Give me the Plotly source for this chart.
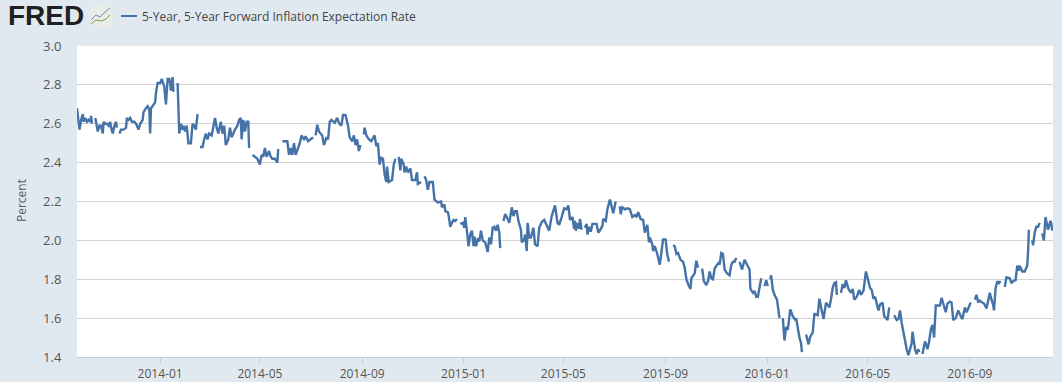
import pandas as pd
import plotly.graph_objects as go

SERIES_NAME = "5-Year, 5-Year Forward Inflation Expectation Rate"
TICK_DATES = ["2014-01-01","2014-05-01","2014-09-01","2015-01-01","2015-05-01","2015-09-01","2016-01-01","2016-05-01","2016-09-01"]
TICK_LABELS = ["2014-01","2014-05","2014-09","2015-01","2015-05","2015-09","2016-01","2016-05","2016-09"]
Y_TICKS = [1.4,1.6,1.8,2.0,2.2,2.4,2.6,2.8,3.0]

# days after 2014-01-01, and the rate on that day (None marks a missing observation)
days_2013 = [-100,-99,-97,-95,-93,-92,-90,-88,-86,-84,-83,-82,-80,-78,-77,-75,-73,-71,-69,-68,-66,-64,-62,-60,-59,-57,-55,-53,-52,-50,-49,-47,-44,-41,-40,-38,-36,-34,-31,-29,-26,-24,-21,-20,-17,-15,-13,-12,-11,-8,-6,-5,-3]
rate_2013 = [2.68,2.65,2.57,2.62,2.65,2.61,2.63,2.61,2.62,2.61,2.64,2.60,None,2.63,2.60,2.56,2.59,2.59,2.55,2.61,2.60,2.60,2.59,2.61,2.58,2.55,2.59,2.61,2.58,None,2.55,2.57,2.57,2.58,2.63,2.62,2.63,2.61,2.61,2.60,2.57,2.60,2.62,2.66,2.68,2.69,2.67,2.55,2.68,2.70,2.71,2.76,2.81]
days_2014a = [0,2,5,7,9,11,12,13,15,16,17,19,21,22,23,25,27,28,30,32,34,37,39,41,43,45,46,48,51,53,55,57,59,62,64,66,68,70,73,75,77,79,82,84,86,88,90,93,95,97,98,100,102,104,106,107,109,111,114,117,120,122,124,126,128,131,133,135,138,141,142,145,147,149,153,155,157,159,161,163,166,168,170,173,175,178,181,184,186,187,189,191,194,195,197]
rate_2014a = [2.81,2.83,2.79,2.70,2.83,2.83,2.81,2.77,2.84,2.77,2.77,None,2.81,2.71,2.55,2.60,2.57,2.59,2.56,2.59,2.50,2.50,2.60,2.59,2.57,2.65,None,2.48,2.48,2.52,2.55,2.52,2.55,2.54,2.58,2.63,2.58,2.55,2.61,2.55,2.59,2.49,2.52,2.58,2.53,2.55,2.57,2.59,2.62,2.63,2.52,2.62,2.56,2.61,2.61,2.475,None,2.44,2.43,2.42,2.39,2.44,2.43,2.475,2.43,2.46,2.43,2.42,2.42,2.40,2.47,None,2.51,2.51,2.51,2.44,2.475,2.44,2.50,2.44,2.475,2.50,2.54,2.52,2.535,2.51,2.52,2.53,None,2.54,2.595,2.56,2.54,2.54,2.49]
days_2014b = [198,200,202,204,206,210,213,215,218,220,223,226,228,231,233,235,237,239,241,243,245,246,248,251,254,258,260,262,264,266,268,270,272,273,275,279,281,283,285,287,289,290,293,294,296,298,301,303,307,309,310,314,316,318,320,322,324,328,330,334,338,339,342,343,346,347]
rate_2014b = [2.50,2.53,2.52,2.61,2.62,2.605,2.63,2.605,2.59,2.645,2.645,2.59,2.53,2.51,2.54,2.49,2.52,2.46,2.49,None,2.545,2.58,2.54,2.52,2.51,2.54,2.485,2.50,2.39,2.425,2.42,2.34,2.30,2.38,2.30,2.31,2.39,2.42,None,2.43,2.36,2.42,2.39,2.35,2.38,2.35,2.37,2.31,2.31,2.35,2.29,2.30,None,2.33,2.31,2.26,2.30,2.30,2.21,2.195,2.20,2.17,2.185,2.15,2.145,2.13]
days_2015a = [349,351,353,355,357,359,361,364,366,367,369,371,373,375,377,378,380,382,384,386,388,391,394,396,398,400,402,404,406,408,409,411,413,415,417,420,423,425,427,429,431,434,435,438,439,441,442,444,446,449,451,454,456,459,462,465,468,471,475,478,480,483,486,489,491,493,496,498]
rate_2015a = [2.07,2.09,2.105,2.10,2.11,None,2.085,2.09,2.065,2.12,2.05,1.97,2.03,2.05,1.97,2.02,1.97,2.005,2.00,2.05,2.00,1.99,1.94,2.015,1.98,2.065,2.07,2.05,2.08,2.04,1.96,None,2.10,2.135,2.12,2.09,2.17,2.125,2.15,2.15,2.10,2.055,1.99,2.005,2.03,1.945,2.09,2.015,2.015,2.065,1.98,1.97,2.065,2.095,2.105,2.08,2.05,2.125,2.18,2.09,2.08,2.12,2.165,2.16,2.18,2.105,2.12,2.06]
days_2015b = [499,500,502,504,505,507,509,511,513,514,516,518,520,523,525,527,529,532,533,536,538,541,543,545,548,550,553,554,556,559,562,565,568,571,573,575,578,581,583,586,588,589,592,593,595,598,601,604,605,608,610,612,614,617,619,621,623,626,629,631,633,636,638,639,641,643,645,647,650,652,654,657,659,661,663,665,667,670,672,673,675,677,679,682,685,687,689,691,693,695,697,700,703,706,709,710,713,715,717,719,721,723,725,727,729,731,733]
rate_2015b = [2.10,2.05,2.09,2.06,2.11,2.055,None,2.065,2.085,2.03,2.07,2.045,2.085,2.085,2.085,2.04,2.05,2.075,2.11,2.10,2.16,2.21,2.17,2.14,2.20,None,2.175,2.135,2.17,2.16,2.165,2.16,2.12,2.13,2.12,2.145,2.11,2.105,2.04,2.08,1.99,2.015,1.98,1.945,1.97,1.93,1.875,1.97,2.005,2.005,1.93,1.89,None,1.975,1.97,1.93,1.935,1.90,1.89,1.86,1.80,1.765,1.75,1.805,1.815,1.83,1.895,1.86,None,1.855,1.79,1.77,1.79,1.84,1.805,1.80,1.855,1.875,1.885,1.875,1.935,1.93,1.85,1.83,1.82,1.875,1.89,1.89,1.91,None,1.89,1.85,1.90,1.875,1.85,1.75,1.73,1.74,1.71,1.71,1.755,1.805,None,1.765,1.795,1.765,None]
days_2016a = [734,735,737,739,742,743,745,747,749,751,753,755,758,761,764,765,769,771,772,775,777,780,782,785,787,788,791,793,796,798,801,805,807,809,811,813,814,816,819,821,823,825,828,831,833,835,838,841,843,846,849,852,854,856,858,860,864,866,869,871,873,875,877,880,883,886,888,890,892,895,898,900,902,904,905,908,910,912,913,915,917,920,923,925,927,929,931,933,936]
rate_2016a = [1.80,1.82,1.745,1.72,1.695,1.65,1.60,None,1.60,1.485,1.555,1.54,1.645,1.61,1.59,1.60,1.50,1.47,1.425,None,1.515,1.465,1.505,1.525,1.625,1.62,1.615,1.70,1.635,1.595,1.68,1.655,1.70,1.755,1.78,1.785,1.72,None,1.73,1.775,1.755,1.795,1.75,1.73,1.75,1.695,1.71,1.745,1.72,1.74,1.84,1.795,1.755,1.745,1.70,1.71,1.64,1.67,1.68,1.61,1.60,1.59,1.655,None,1.615,1.59,1.595,1.64,1.575,1.50,1.44,1.41,1.44,1.47,1.53,1.44,1.415,1.44,1.425,None,1.415,1.48,1.44,1.48,1.54,1.565,1.50,1.665,1.665]
days_2016b = [938,940,942,945,947,950,952,954,957,960,963,965,968,970,973,975,978,980,982,984,986,989,991,994,996,998,1000,1002,1003,1005,1007,1009,1011,1013,1016,1018,1022,1024,1026,1029,1031,1033,1034,1037,1040,1043,1044,1045,1047,1049,1050,1052,1054,1056,1058,1059,1061,1063,1065,1067,1068,1071,1072,1073]
rate_2016b = [1.665,1.705,1.675,1.63,1.675,1.685,1.68,1.59,1.60,1.64,1.61,1.595,1.655,1.63,1.66,1.68,None,1.695,1.72,1.68,1.69,1.68,1.675,1.65,1.69,1.73,1.695,1.67,1.64,1.755,1.79,1.78,1.79,None,1.76,1.81,1.805,1.78,1.79,1.795,1.87,1.845,1.87,1.84,1.84,1.87,1.94,2.055,None,2.00,1.975,2.04,2.07,2.07,2.09,None,2.035,2.00,2.12,2.08,2.055,2.10,2.085,2.05]

days = days_2013 + days_2014a + days_2014b + days_2015a + days_2015b + days_2016a + days_2016b
rates = rate_2013 + rate_2014a + rate_2014b + rate_2015a + rate_2015b + rate_2016a + rate_2016b
assert len(days) == len(rates)

dates = pd.Timestamp("2014-01-01") + pd.to_timedelta(days, unit="D")

BG = "#e1e9f0"
LINE = "#4572a7"
GRID = "#d3d3d3"
AXIS = "#c0d0e0"
TEXT = "#555555"
W, H = 1062, 382
L, R, T, B = 77, 9, 46, 25

def px(x):
    return (x - L) / (W - L - R)

def py(y):
    return (H - B - y) / (H - B - T)

fig = go.Figure(go.Scatter(x=dates, y=rates, mode="lines", name=SERIES_NAME,
                           line=dict(color=LINE, width=2.4), connectgaps=False,
                           showlegend=False))

shapes = [
    dict(type="rect", xref="paper", yref="paper", x0=px(90), x1=px(112), y0=py(27), y1=py(6),
         fillcolor="#e9ebe8", line=dict(width=0), layer="below"),
    dict(type="path", xref="paper", yref="paper", line=dict(color="#6f90b8", width=1),
         path=f"M {px(91)} {py(20)} L {px(96)} {py(15)} L {px(100)} {py(17)} L {px(105)} {py(12)} L {px(110)} {py(8)}"),
    dict(type="path", xref="paper", yref="paper", line=dict(color="#7f9e4a", width=1),
         path=f"M {px(91)} {py(24)} L {px(96)} {py(20)} L {px(101)} {py(21)} L {px(106)} {py(19)} L {px(110)} {py(15)}"),
    dict(type="line", xref="paper", yref="paper", x0=px(121), x1=px(137), y0=py(16), y1=py(16),
         line=dict(color=LINE, width=2)),
]

annotations = [
    dict(text="<b>FRED</b>", xref="paper", yref="paper", x=px(6), y=py(15), xanchor="left", yanchor="middle",
         showarrow=False, font=dict(family="Liberation Sans", size=28, color="#231f20")),
    dict(text=SERIES_NAME, xref="paper", yref="paper", x=px(140), y=py(16), xanchor="left", yanchor="middle",
         showarrow=False, font=dict(family="Open Sans", size=12, color="#444444")),
    dict(text="Percent", xref="paper", yref="paper", x=px(21), y=py(201), xanchor="center", yanchor="middle",
         textangle=-90, showarrow=False, font=dict(family="Open Sans", size=12, color="#5a5570")),
]

fig.update_layout(
    width=W, height=H, autosize=False,
    margin=dict(l=L, r=R, t=T, b=B, pad=0),
    paper_bgcolor=BG, plot_bgcolor="#ffffff",
    shapes=shapes, annotations=annotations, showlegend=False,
    font=dict(family="Open Sans", color=TEXT, size=12),
    xaxis=dict(type="date", range=["2013-09-23", "2016-12-10"], tickmode="array", automargin=False,
               tickvals=TICK_DATES, ticktext=TICK_LABELS, ticks="outside", ticklen=6,
               tickcolor=AXIS, tickwidth=1, showgrid=False, showline=True, linecolor=AXIS,
               linewidth=1, tickfont=dict(size=12, color=TEXT), zeroline=False),
    yaxis=dict(range=[1.4, 3.0], tickmode="array", tickvals=Y_TICKS, automargin=False,
               ticktext=[f"{v:.1f}" for v in Y_TICKS], gridcolor=GRID, gridwidth=1,
               ticks="outside", ticklen=12, tickcolor="rgba(0,0,0,0)", showline=False,
               tickfont=dict(size=13, color=TEXT), zeroline=False),
)

fig.write_html("out.html", config={"displayModeBar": False},
               post_script="document.body.style.margin='0';document.body.style.overflow='hidden';document.body.style.background='#e1e9f0';")
